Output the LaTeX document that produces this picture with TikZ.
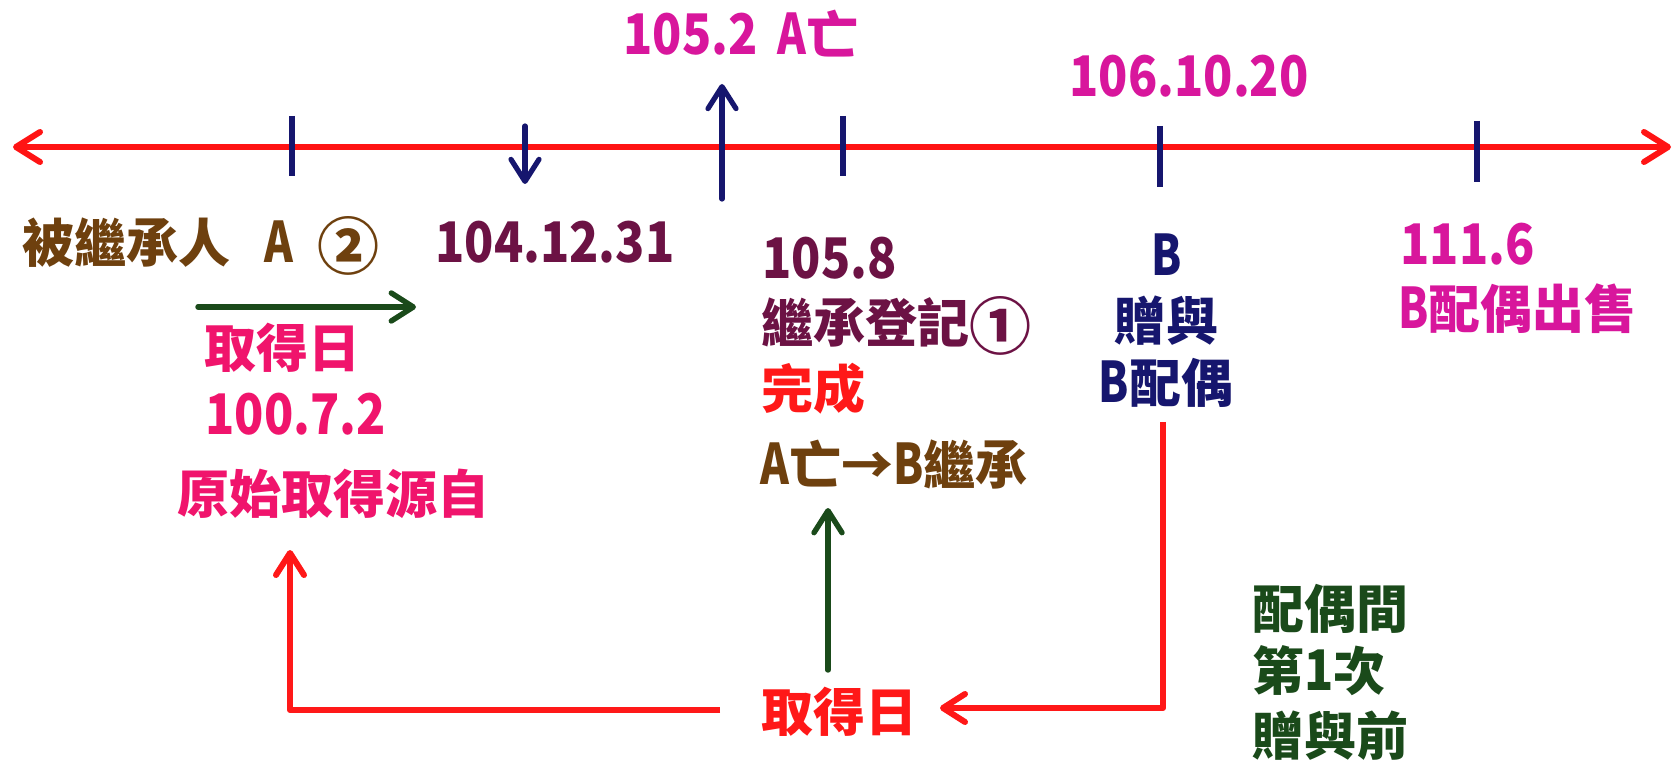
\documentclass[tikz,border=0pt]{standalone}
\usepackage{fontspec}
\setmainfont{Noto Sans CJK TC}
\usetikzlibrary{arrows.meta}
\definecolor{tlred}{HTML}{FF1414}
\definecolor{navyc}{HTML}{16166E}
\definecolor{magc}{HTML}{D8169C}
\definecolor{pinkc}{HTML}{F0146C}
\definecolor{maroonc}{HTML}{6C1244}
\definecolor{brownc}{HTML}{6E400E}
\definecolor{redc}{HTML}{FF1818}
\definecolor{dgreen}{HTML}{1A4A1A}
\newcommand{\nd}[1]{\scalebox{0.86}[1]{\fontsize{28pt}{30pt}\selectfont #1}}
\newcommand{\nl}[1]{\scalebox{0.78}[1]{\fontsize{28pt}{30pt}\selectfont #1}}
\newcommand{\circnum}[1]{\raisebox{-0.12em}{\fontsize{31pt}{33pt}\selectfont #1}}
\begin{document}
\begin{tikzpicture}[x=0.5pt,y=-0.5pt,
  lbl/.style={inner sep=0pt, font=\fontsize{26pt}{30pt}\selectfont\bfseries},
  tickmark/.style={navyc, line width=2.6pt},
  barb/.style={-{Straight Barb[round,length=11pt,width=14pt]}, line cap=round, line join=round},
  tl/.style={tlred, line width=3pt, line cap=round},
  redarrow/.style={barb, redc, line width=3pt},
  greenarrow/.style={barb, dgreen, line width=2.7pt},
  navyarrow/.style={barb, navyc, line width=2.6pt}
]
\useasboundingbox[fill=white] (0,0) rectangle (1676,764);

% timeline
\coordinate (L) at (13,147);
\coordinate (R) at (1671,147);
\draw[tl, {Straight Barb[round,length=12pt,width=15pt]}-{Straight Barb[round,length=12pt,width=15pt]}] (L) -- (R);

% ticks
\coordinate (t1a) at (292,116); \coordinate (t1b) at (292,176);
\coordinate (t3a) at (843,116); \coordinate (t3b) at (843,176);
\coordinate (t4a) at (1160,126); \coordinate (t4b) at (1160,187);
\coordinate (t5a) at (1477,121); \coordinate (t5b) at (1477,182);
\draw[tickmark] (t1a) -- (t1b);
\draw[tickmark] (t3a) -- (t3b);
\draw[tickmark] (t4a) -- (t4b);
\draw[tickmark] (t5a) -- (t5b);

% navy arrows
\coordinate (da) at (525,126); \coordinate (db) at (525,184);
\draw[navyarrow] (da) -- (db);
\coordinate (ua) at (722,199); \coordinate (ub) at (722,84);
\draw[navyarrow] (ua) -- (ub);

% texts
\node[lbl, magc, anchor=base west] (t1052) at (623,55) {\nd{105.2}\hspace{10pt}\nl{A}亡};
\node[lbl, magc, anchor=base] (t1061) at (1189,97) {\nd{106.10.20}};
\node[lbl, brownc, anchor=base west] (heir) at (22,263) {被繼承人\hspace{17pt}\nl{A}\hspace{12pt}\circnum{②}};
\node[lbl, maroonc, anchor=base west] (t1041) at (435,263) {\nd{104.12.31}};
\node[lbl, pinkc, anchor=base west] (qd1) at (204,368) {取得日};
\node[lbl, pinkc, anchor=base west] (t1007) at (205,435) {\nd{100.7.2}};
\node[lbl, pinkc, anchor=base west] (yuan) at (177,514) {原始取得源自};
\node[lbl, redc, anchor=base west] (qd2) at (761,731) {取得日};
\node[lbl, maroonc, anchor=base west] (t1058) at (762,279) {\nd{105.8}};
\node[lbl, maroonc, anchor=base west] (dengji) at (761,343) {繼承登記\circnum{①}};
\node[lbl, redc, anchor=base west] (wc) at (761,409) {完成};
\node[lbl, brownc, anchor=base west] (aw) at (760,485) {\nl{A}亡→\nl{B}繼承};
\node[lbl, navyc, anchor=base] (bb) at (1167,276) {\nl{B}};
\node[lbl, navyc, anchor=base] (zy) at (1166,341) {贈與};
\node[lbl, navyc, anchor=base] (bp) at (1166,403) {\nl{B}配偶};
\node[lbl, magc, anchor=base west] (t1116) at (1400,265) {\nd{111.6}};
\node[lbl, magc, anchor=base west] (bsell) at (1398,329) {\nl{B}配偶出售};
\node[lbl, dgreen, anchor=base west] (pj) at (1252,628) {配偶間};
\node[lbl, dgreen, anchor=base west] (d1) at (1252,690) {第\nd{1}次};
\node[lbl, dgreen, anchor=base west] (zyq) at (1252,755) {贈與前};

% green arrows
\coordinate (ga1) at (198,307); \coordinate (ga2) at (416,307);
\draw[greenarrow] (ga1) -- (ga2);
\coordinate (gu1) at (828,670); \coordinate (gu2) at (828,508);
\draw[greenarrow] (gu1) -- (gu2);

% red elbow arrows
\coordinate (rl1) at (720,710); \coordinate (rl2) at (290,710); \coordinate (rl3) at (290,550);
\draw[redarrow, line cap=butt] (rl1) -- (rl2) -- (rl3);
\coordinate (rr1) at (1163,422); \coordinate (rr2) at (1163,708); \coordinate (rr3) at (940,708);
\draw[redarrow, line cap=butt] (rr1) -- (rr2) -- (rr3);
\end{tikzpicture}
\end{document}
